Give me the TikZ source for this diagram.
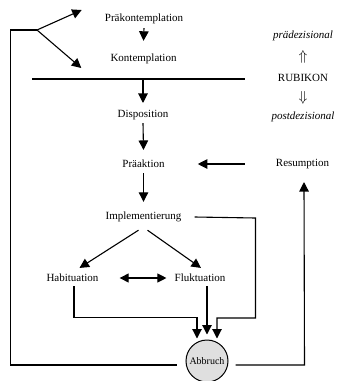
\documentclass[tikz,border=0pt]{standalone}
\usepackage{fontspec}
\setmainfont{Liberation Serif}
\usetikzlibrary{arrows.meta}
\begin{document}
\begin{tikzpicture}[x=1pt,y=-1pt,
  lbl/.style={font=\fontsize{11}{13}\selectfont, inner sep=1pt},
  ilbl/.style={font=\fontsize{11}{13}\selectfont\itshape, inner sep=1pt},
  ln/.style={line width=1.1pt},
  conn/.style={line width=1.1pt, -{Triangle[length=9.5pt,width=9.5pt]}},
  dconn/.style={line width=1.1pt, {Triangle[length=9pt,width=9pt]}-{Triangle[length=9pt,width=9pt]}}]
\useasboundingbox (0,0) rectangle (338,381);
% nodes
\node[lbl] (prak) at (144,19) {Präkontemplation};
\node[lbl] (kont) at (143.5,59) {Kontemplation};
\node[lbl] (disp) at (143,115) {Disposition};
\node[lbl] (prae) at (143.5,164) {Präaktion};
\node[lbl] (impl) at (143.5,217) {Implementierung};
\node[lbl] (hab) at (72.5,278) {Habituation};
\node[lbl] (fluk) at (200,278) {Fluktuation};
\node[lbl] (resum) at (302.5,164) {Resumption};
\node[ilbl] (pre) at (303,36) {prädezisional};
\node[lbl, font=\fontsize{15}{15}\selectfont] (up) at (303,57) {$\Uparrow$};
\node[lbl] (rub) at (303,78) {RUBIKON};
\node[lbl, font=\fontsize{15}{15}\selectfont] (down) at (303,98) {$\Downarrow$};
\node[ilbl] (post) at (303,117) {postdezisional};
\node[draw, circle, fill=gray!25, minimum size=42pt, inner sep=0pt, line width=1pt,
      font=\fontsize{10}{12}\selectfont] (abb) at (207,361) {Abbruch};
% rubicon line
\coordinate (rl) at (32,79);
\coordinate (rr) at (245,79);
\coordinate (rm) at (143,79);
\draw[ln] (rl) -- (rr);
% main chain
\draw[conn] ([yshift=-3pt]prak.south) -- ([yshift=12pt]kont.north);
\draw[conn] (rm) -- ([yshift=6pt]disp.north);
\draw[conn] ([yshift=-2pt]disp.south) -- ([yshift=9pt]prae.north);
\draw[conn] ([yshift=-4pt]prae.south) -- ([yshift=9pt]impl.north);
\draw[conn] ([xshift=-30pt]resum.west) -- ([xshift=32pt]prae.east);
% implementation branches
\draw[conn] ([xshift=-5pt,yshift=-7pt]impl.south) -- ([xshift=7pt,yshift=5pt]hab.north);
\draw[conn] ([xshift=4pt,yshift=-7pt]impl.south) -- ([xshift=1pt,yshift=5pt]fluk.north);
\draw[dconn] ([xshift=20pt]hab.east) -- ([xshift=-7pt]fluk.west);
% to Abbruch
\draw[conn] ([xshift=1.5pt,yshift=-3pt]hab.south) -- (74,317.5) -- (197,317.5) -- ([xshift=-10pt,yshift=1pt]abb.north);
\draw[conn] ([xshift=7pt,yshift=-3pt]fluk.south) -- ([yshift=5pt]abb.north);
\draw[conn] ([xshift=12pt]impl.east) -- (255.5,218) -- (255.5,318) -- (217,318) -- ([xshift=10pt,yshift=1pt]abb.north);
% loop back left
\coordinate (br) at (37,30);
\draw[ln] ([xshift=-9pt,yshift=-4pt]abb.west) -- (10.5,365) -- (10.5,30) -- (br);
\draw[conn] (br) -- ([xshift=-22pt,yshift=9pt]prak.west);
\draw[conn] (br) -- ([xshift=-28pt,yshift=-9pt]kont.west);
% loop to resumption
\draw[conn] ([xshift=7pt,yshift=-4pt]abb.east) -- (304.5,365) -- ([xshift=1.5pt,yshift=-12pt]resum.south);
\end{tikzpicture}
\end{document}
